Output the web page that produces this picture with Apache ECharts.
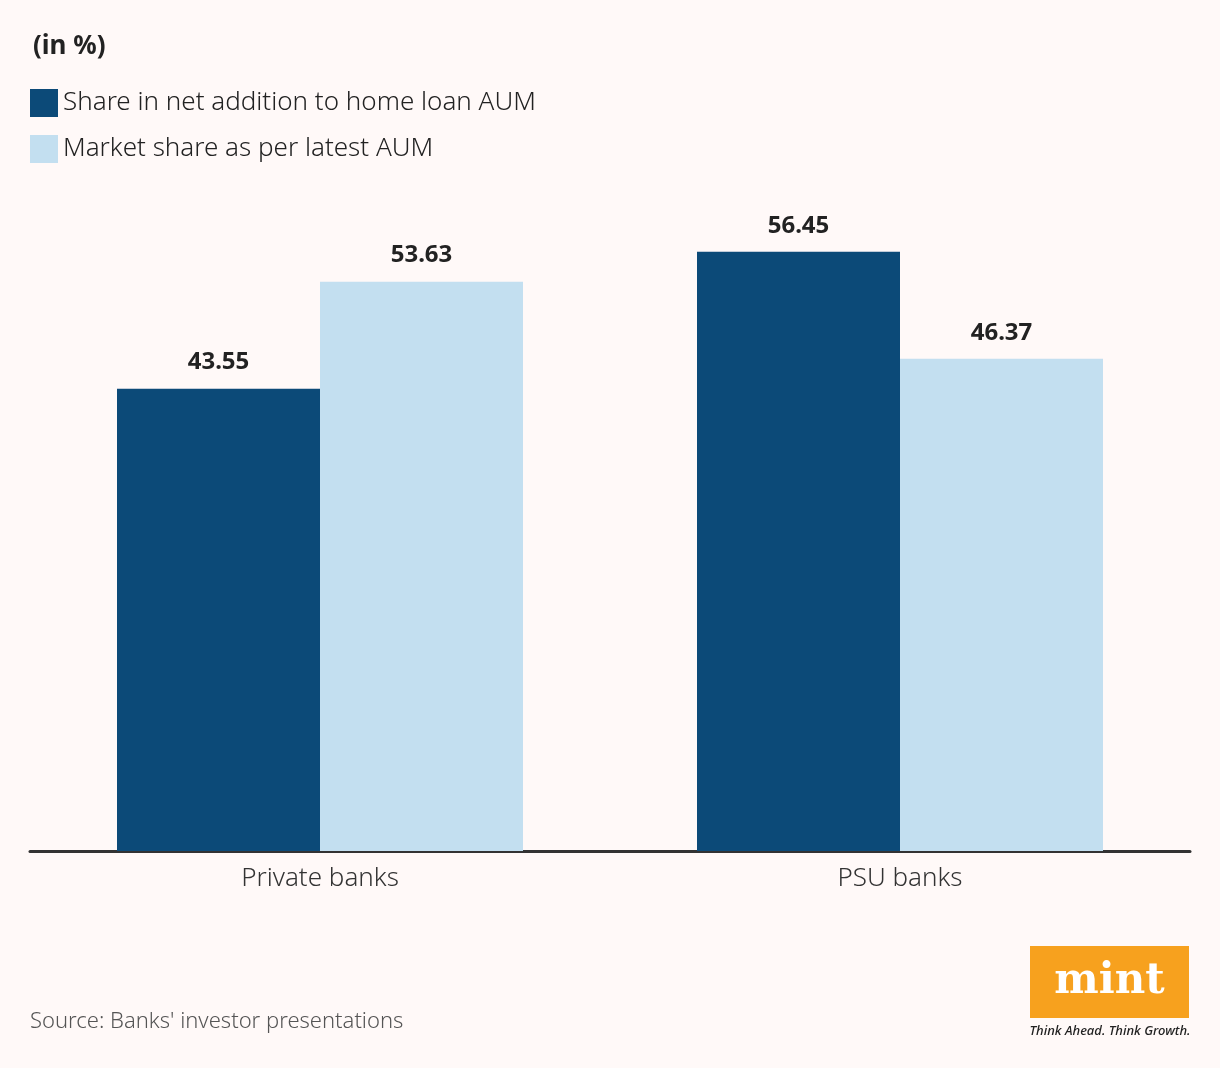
<!DOCTYPE html>
<html>
<head>
<meta charset="utf-8">
<script src="https://cdn.jsdelivr.net/npm/echarts@6/dist/echarts.min.js"></script>
<style>
html,body{margin:0;padding:0;background:#FFF9F8;}
#chart{width:1220px;height:1068px;}
</style>
</head>
<body>
<div id="chart"></div>
<script>
const categories = ['Private banks', 'PSU banks'];
const seriesNames = ['Share in net addition to home loan AUM', 'Market share as per latest AUM'];
const netAddition = [43.55, 56.45];
const marketShare = [53.63, 46.37];

const chart = echarts.init(document.getElementById('chart'));
const font = '"Noto Sans", "Open Sans", sans-serif';
chart.setOption({
  backgroundColor: '#FFF9F8',
  animation: false,
  title: {
    text: '(in %)',
    left: 28, top: 29,
    textStyle: {fontFamily: font, fontSize: 26, fontWeight: 'bold', color: '#222'}
  },
  legend: {
    orient: 'vertical',
    left: 25, top: 84,
    itemWidth: 28, itemHeight: 28, itemGap: 18,
    icon: 'rect',
    data: seriesNames,
    textStyle: {fontFamily: font, fontSize: 26, fontWeight: 300, color: '#222', padding: [0,0,0,0]},
    selectedMode: false
  },
  grid: {left: 30, right: 30, top: 214, bottom: 217, containLabel: false},
  xAxis: {
    type: 'category',
    data: categories,
    axisLine: {lineStyle: {color: '#333', width: 3}},
    axisTick: {show: false},
    axisLabel: {fontFamily: font, fontSize: 26, fontWeight: 300, color: '#333', margin: 15}
  },
  yAxis: {
    type: 'value', min: 0, max: 60,
    show: false,
    splitLine: {show: false}
  },
  series: [
    {
      name: seriesNames[0], type: 'bar', data: netAddition,
      barGap: '0%', barCategoryGap: '30%',
      itemStyle: {color: '#0C4A78'},
      label: {show: true, position: 'top', distance: 14, fontFamily: font, fontSize: 24, fontWeight: 'bold', color: '#222'}
    },
    {
      name: seriesNames[1], type: 'bar', data: marketShare,
      barGap: '0%', barCategoryGap: '30%',
      itemStyle: {color: '#C3DFF0'},
      label: {show: true, position: 'top', distance: 14, fontFamily: font, fontSize: 24, fontWeight: 'bold', color: '#222'}
    }
  ],
  graphic: [
    {type: 'text', left: 30, top: 1011, style: {text: "Source: Banks' investor presentations", font: '300 22px "Noto Sans", sans-serif', fill: '#555'}},
    {type: 'rect', shape: {x: 1030, y: 946, width: 159, height: 72}, style: {fill: '#F7A11E'}},
    {type: 'text', x: 1109.5, y: 982, style: {text: 'mint', font: '900 42px "DejaVu Serif", "Liberation Serif", serif', fill: '#fff', align: 'center', verticalAlign: 'middle'}},
    {type: 'text', x: 1110, y: 1031, style: {text: 'Think Ahead. Think Growth.', font: 'italic 500 13px "Noto Sans", sans-serif', fill: '#222', align: 'center', verticalAlign: 'middle'}}
  ]
});
</script>
</body>
</html>
